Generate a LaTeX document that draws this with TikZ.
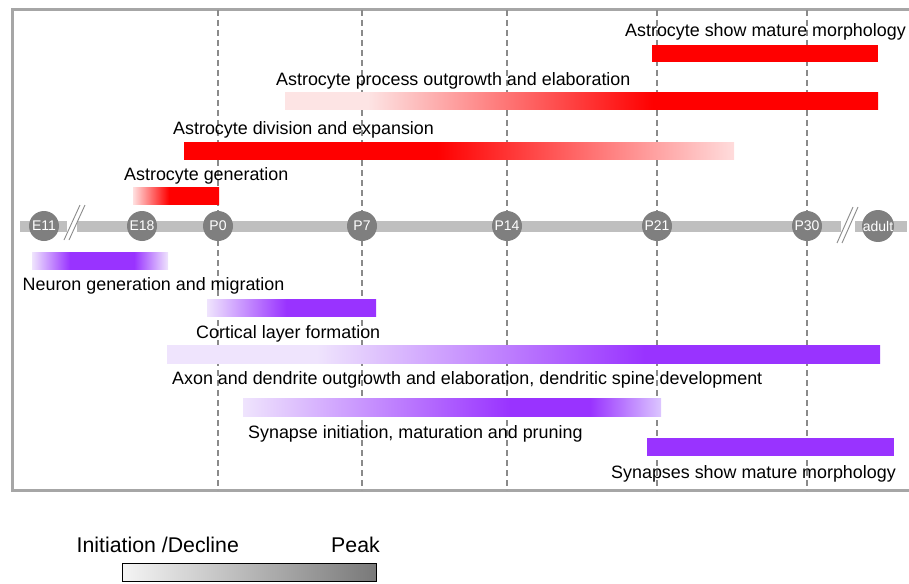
\documentclass[tikz,border=0pt]{standalone}
\usepackage{fontspec}
\setmainfont{Liberation Sans}
\definecolor{ared}{HTML}{FF0000}
\definecolor{apinkA}{HTML}{FFE0E0}
\definecolor{apinkD}{HTML}{FFDCDC}
\definecolor{apinkP}{HTML}{FDE4E4}
\definecolor{npurple}{HTML}{9933FF}
\definecolor{nlav}{HTML}{EFE4FD}
\definecolor{nlav2}{HTML}{DCC6FF}
\definecolor{framegray}{HTML}{A6A6A6}
\definecolor{axisgray}{HTML}{BFBFBF}
\definecolor{dotgray}{HTML}{7F7F7F}
\definecolor{dashgray}{HTML}{8A8A8A}
\pgfdeclarehorizontalshading{agen}{100bp}{color(0bp)=(apinkA); color(25bp)=(apinkA); color(46bp)=(ared); color(100bp)=(ared)}
\pgfdeclarehorizontalshading{adiv}{100bp}{color(0bp)=(ared); color(48bp)=(ared); color(75bp)=(apinkD); color(100bp)=(apinkD)}
\pgfdeclarehorizontalshading{aproc}{100bp}{color(0bp)=(apinkP); color(32bp)=(apinkP); color(56bp)=(ared); color(100bp)=(ared)}
\pgfdeclarehorizontalshading{neur}{100bp}{color(0bp)=(nlav); color(25bp)=(nlav); color(39bp)=(npurple); color(62.5bp)=(npurple); color(75bp)=(nlav); color(100bp)=(nlav)}
\pgfdeclarehorizontalshading{cort}{100bp}{color(0bp)=(nlav); color(25bp)=(nlav); color(48.5bp)=(npurple); color(100bp)=(npurple)}
\pgfdeclarehorizontalshading{axon}{100bp}{color(0bp)=(nlav); color(35.5bp)=(nlav); color(58.5bp)=(npurple); color(100bp)=(npurple)}
\pgfdeclarehorizontalshading{synin}{100bp}{color(0bp)=(nlav); color(25bp)=(nlav); color(57bp)=(npurple); color(66.5bp)=(npurple); color(75bp)=(nlav2); color(100bp)=(nlav2)}
\tikzset{
  lbl/.style={anchor=base west, inner sep=0pt, font=\fontsize{17.9pt}{20pt}\selectfont},
  leglbl/.style={anchor=base west, inner sep=0pt, font=\fontsize{21.3pt}{24pt}\selectfont},
  dot/.style={circle, fill=dotgray, text=white, minimum size=30pt, inner sep=0pt, font=\fontsize{14pt}{16pt}\selectfont},
  dashline/.style={draw=dashgray, line width=1.2pt, dash pattern=on 6pt off 4pt},
  axisbar/.style={fill=axisgray},
  brk/.style={draw=dashgray, line width=0.9pt},
}
\begin{document}
\begin{tikzpicture}[x=1pt,y=-1pt]
\useasboundingbox (0,0) rectangle (909,583);
% frame
\coordinate (ftop) at (12,10);
\coordinate (fbot) at (12,490);
\draw[framegray, line width=3pt] (909,10) -- (ftop) -- (fbot) -- (909,490);
% timeline dots (placed first to get names)
\path (44,226) coordinate (cE11) (142,226) coordinate (cE18) (218,226) coordinate (cP0)
      (362,226) coordinate (cP7) (507,226) coordinate (cP14) (657,226) coordinate (cP21)
      (807,226) coordinate (cP30) (878,226) coordinate (cAd);
% dashed guides
\foreach \c in {cP0,cP7,cP14,cP21,cP30}
  \draw[dashline] (\c |- ftop) -- (\c |- fbot);
% astrocyte bars
\shade[shading=aproc] (285,93) rectangle (878,110);
\fill[ared] (652,45) rectangle (878,62);
\shade[shading=adiv] (184,142) rectangle (734,159);
\shade[shading=agen] (133,187) rectangle (219,204);
% neuron bars
\shade[shading=neur] (32,252) rectangle (168,269);
\shade[shading=cort] (207,299) rectangle (376,316);
\shade[shading=axon] (167,345) rectangle (880,363);
\shade[shading=synin] (243,398) rectangle (661,416);
\fill[npurple] (647,438) rectangle (894,456);
% axis bar
\fill[axisgray] (20,221) rectangle (67,232);
\fill[axisgray] (77,221) rectangle (841,232);
\fill[axisgray] (855,221) rectangle (907,232);
\draw[brk] (64,240) -- (80,205);
\draw[brk] (69,240) -- (85,205);
\draw[brk] (837,243) -- (853,207);
\draw[brk] (842,243) -- (858,207);
% dots
\node[dot] (E11) at (cE11) {E11};
\node[dot] (E18) at (cE18) {E18};
\node[dot] (P0) at (cP0) {P0};
\node[dot] (P7) at (cP7) {P7};
\node[dot] (P14) at (cP14) {P14};
\node[dot] (P21) at (cP21) {P21};
\node[dot] (P30) at (cP30) {P30};
\node[dot] (adult) at (cAd) {adult};
% labels
\node[lbl] (l1) at (625,37) {Astrocyte show mature morphology};
\node[lbl] (l2) at (276,86) {Astrocyte process outgrowth and elaboration};
\node[lbl] (l3) at (173,134) {Astrocyte division and expansion};
\node[lbl] (l4) at (124,180) {Astrocyte generation};
\node[lbl] (l5) at (22.5,290) {Neuron generation and migration};
\node[lbl] (l6) at (196,338) {Cortical layer formation};
\node[lbl] (l7) at (172,384) {Axon and dendrite outgrowth and elaboration, dendritic spine development};
\node[lbl] (l8) at (248,438) {Synapse initiation, maturation and pruning};
\node[lbl] (l9) at (611,478) {Synapses show mature morphology};
% legend
\node[leglbl] (legA) at (76.5,552) {Initiation /Decline};
\node[leglbl] (legB) at (331,552) {Peak};
\shade[left color=white!96!black, right color=dotgray!95!black, draw=black, line width=1pt] (122,563) rectangle (376,581);
\end{tikzpicture}
\end{document}
